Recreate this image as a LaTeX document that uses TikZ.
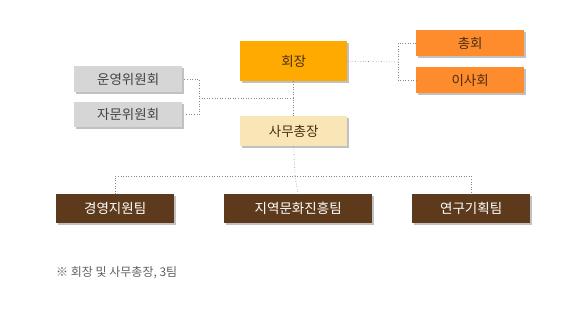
\documentclass[tikz,border=0pt]{standalone}
\usepackage{fontspec}
\setmainfont{Noto Sans CJK KR}
\usetikzlibrary{shadows}
\definecolor{pres}{HTML}{FFAA00}
\definecolor{assem}{HTML}{FF8C2C}
\definecolor{secg}{HTML}{F8E6B6}
\definecolor{comm}{HTML}{D6D6D6}
\definecolor{team}{HTML}{5E3A1C}
\definecolor{darktxt}{HTML}{4A2E14}
\definecolor{graytxt}{HTML}{444444}
\definecolor{linec}{HTML}{888888}
\tikzset{
  box/.style={anchor=north west, inner sep=0pt, font=\fontsize{13.5}{15}\selectfont,
    drop shadow={shadow xshift=2pt, shadow yshift=-2pt, fill=black!35, opacity=0.7}},
  conn/.style={draw=linec, dotted, line width=0.6pt},
}
\begin{document}
\begin{tikzpicture}[x=1pt,y=-1pt]
\useasboundingbox (0,0) rectangle (586,312);
\node[box, fill=pres, text=darktxt, minimum width=107pt, minimum height=40pt] (pr) at (240,41) {회장};
\node[box, fill=secg, text=darktxt, minimum width=107pt, minimum height=30pt] (sg) at (240,116) {사무총장};
\node[box, fill=comm, text=graytxt, minimum width=108pt, minimum height=26pt] (c1) at (74,66) {운영위원회};
\node[box, fill=comm, text=graytxt, minimum width=108pt, minimum height=25pt] (c2) at (74,102) {자문위원회};
\node[box, fill=assem, text=darktxt, minimum width=108pt, minimum height=26pt] (a1) at (416,30) {총회};
\node[box, fill=assem, text=darktxt, minimum width=108pt, minimum height=26pt] (a2) at (416,67) {이사회};
\node[box, fill=team, text=white, minimum width=118pt, minimum height=29pt] (t1) at (56,194) {경영지원팀};
\node[box, fill=team, text=white, minimum width=148pt, minimum height=29pt] (t2) at (224,194) {지역문화진흥팀};
\node[box, fill=team, text=white, minimum width=118pt, minimum height=29pt] (t3) at (412,194) {연구기획팀};
\coordinate (jl) at (199,98);
\coordinate (jr) at (398,62);
\coordinate (jt) at (295,176);
% connectors
\draw[conn] (pr.south) -- (sg.north);
\draw[conn] ([xshift=2pt]c1.east) -| (jl) |- ([xshift=2pt]c2.east);
\draw[conn] (jl) -- (jl -| pr.south);
\draw[conn] (pr.east) -- (jr);
\draw[conn] (a1.west) -| (jr) |- (a2.west);
\draw[conn] (sg.south) -- (jt);
\draw[conn] (t1.north) |- (jt) -| (t3.north);
\draw[conn] (jt) -- (t2.north);
\node[anchor=west, text=graytxt!85, font=\fontsize{12}{14}\selectfont, inner sep=0pt] (note) at (56,273) {※ 회장 및 사무총장, 3팀};
\end{tikzpicture}
\end{document}
